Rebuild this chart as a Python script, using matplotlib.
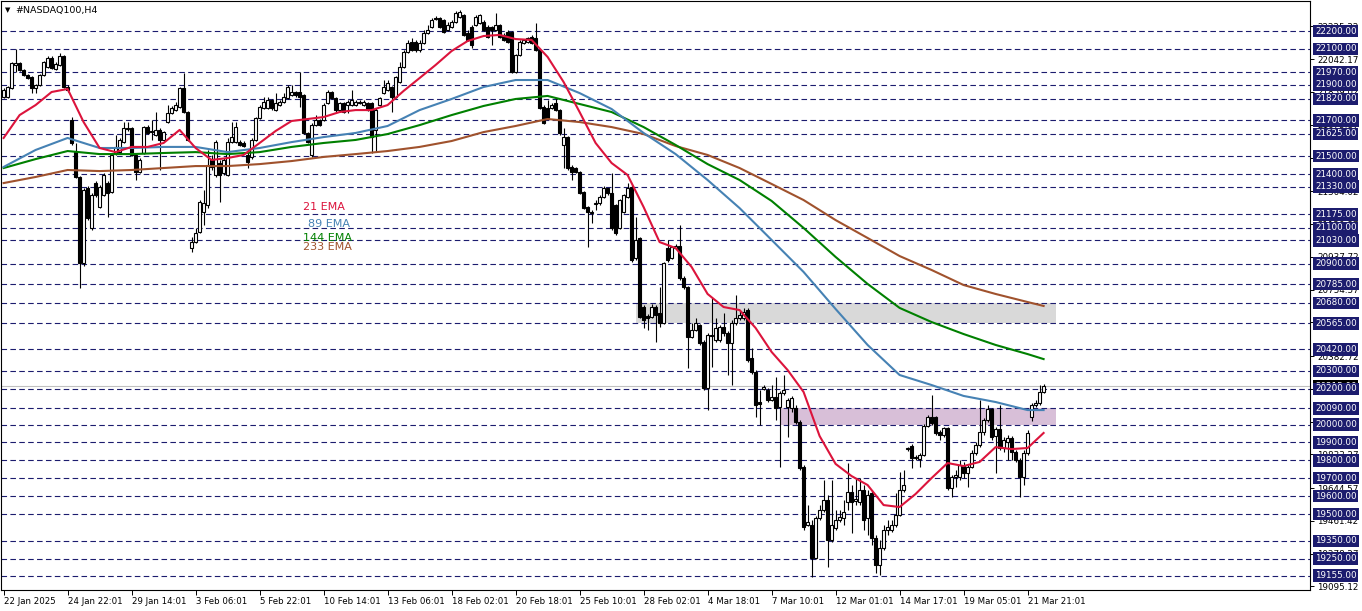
import matplotlib
matplotlib.use("Agg")
import matplotlib.pyplot as plt
from matplotlib.patches import Rectangle
from matplotlib.collections import LineCollection

# ---------------- data (H4 bars, #NASDAQ100) ----------------
bar_open = [21831, 21831, 21881, 22010, 22021, 21982, 21954, 21943, 21881, 21898, 21954, 21999, 22049, 21988, 22010, 22060, 21887,
            21702, 21523, 21384, 20903, 21322, 21099, 21350, 21216, 21283, 21350, 21300, 21518, 21523, 21579, 21658, 21658,
            21507, 21412, 21518, 21663, 21641, 21619, 21647, 21591, 21691, 21742, 21758, 21775, 21881, 21747, 20987, 21021,
            21077, 21188, 21227, 21479, 21395, 21462, 21406, 21395, 21579, 21579, 21579, 21574, 21507, 21496, 21591, 21714,
            21769, 21769, 21814, 21758, 21786, 21803, 21825, 21842, 21859, 21859, 21842, 21630, 21507, 21674, 21702, 21702,
            21798, 21859, 21825, 21758, 21798, 21786, 21786, 21786, 21803, 21786, 21798, 21798, 21647, 21786, 21853, 21870,
            21887, 21831, 21915, 21999, 22082, 22138, 22138, 22094, 22133, 22189, 22222, 22273, 22273, 22261, 22206, 22222,
            22250, 22278, 22289, 22189, 22222, 22234, 22245, 22250, 22222, 22222, 22206, 22234, 22178, 22194, 22194, 21971,
            22066, 22133, 22138, 22166, 22161, 22094, 21775, 21769, 21769, 21798, 21758, 21563, 21607, 21440, 21434, 21412,
            21300, 21216, 21188, 21233, 21238, 21272, 21322, 21294, 21227, 21099, 21188, 21272, 21328, 20931, 21043, 20657,
            20607, 20601, 20657, 20623, 20568, 20987, 20931, 20987, 20998, 20819, 20769, 20489, 20529, 20557, 20461, 20204,
            20495, 20473, 20473, 20545, 20512, 20456, 20568, 20596, 20596, 20640, 20372, 20294, 20126, 20199, 20193, 20137,
            20154, 20098, 20176, 20098, 20092, 20092, 20014, 19763, 19439, 19439, 19254, 19478, 19522, 19578, 19355, 19422,
            19466, 19478, 19567, 19623, 19573, 19567, 19634, 19478, 19617, 19366, 19215, 19310, 19411, 19411, 19439, 19494,
            19634, 19863, 19880, 19813, 19807, 19830, 19992, 20042, 20042, 19958, 19941, 19981, 19645, 19707, 19707, 19768,
            19729, 19763, 19841, 19886, 19958, 20025, 20087, 19936, 19975, 19869, 19902, 19925, 19847, 19802, 19707, 19841,
            20043, 20109, 20120, 20182]
bar_high = [21881, 21893, 22026, 22099, 22026, 21988, 21960, 21948, 21904, 21960, 22032, 22060, 22060, 22026, 22077, 22066, 21898,
            21719, 21574, 21389, 21322, 21333, 21294, 21361, 21339, 21406, 21361, 21518, 21619, 21602, 21691, 21691, 21663,
            21512, 21490, 21669, 21674, 21702, 21747, 21658, 21641, 21786, 21781, 21803, 21887, 21965, 21753, 21049, 21099,
            21255, 21311, 21535, 21507, 21591, 21479, 21490, 21602, 21691, 21691, 21591, 21585, 21535, 21602, 21719, 21786,
            21831, 21831, 21820, 21853, 21814, 21853, 21898, 21898, 21865, 21971, 21848, 21635, 21686, 21730, 21708, 21798,
            21870, 21865, 21831, 21803, 21803, 21814, 21870, 21814, 21814, 21814, 21803, 21803, 21769, 21831, 21926, 21926,
            21893, 21948, 22026, 22094, 22150, 22161, 22150, 22150, 22206, 22234, 22273, 22284, 22278, 22267, 22250, 22261,
            22312, 22317, 22295, 22206, 22234, 22289, 22295, 22261, 22234, 22228, 22301, 22239, 22189, 22206, 22200, 22071,
            22150, 22155, 22166, 22178, 22245, 22099, 21786, 21814, 21798, 21825, 21764, 21658, 21613, 21451, 21440, 21417,
            21306, 21222, 21199, 21255, 21283, 21333, 21322, 21406, 21233, 21261, 21289, 21350, 21339, 21160, 21049, 20668,
            20618, 20674, 20668, 20769, 20909, 21032, 20998, 21009, 21116, 20830, 20774, 20568, 20596, 20562, 20473, 20512,
            20707, 20596, 20557, 20623, 20523, 20584, 20724, 20640, 20651, 20651, 20428, 20305, 20193, 20221, 20204, 20221,
            20266, 20188, 20277, 20148, 20160, 20109, 20025, 19774, 19550, 19466, 19489, 19550, 19690, 19606, 19690, 19522,
            19522, 19578, 19785, 19662, 19701, 19701, 19662, 19634, 19634, 19383, 19355, 19439, 19466, 19466, 19617, 19735,
            19746, 19874, 19891, 19830, 19841, 20003, 20053, 20165, 20048, 19970, 19986, 19986, 19718, 19746, 19802, 19791,
            19774, 19858, 19902, 20137, 20036, 20109, 20092, 19986, 20109, 19930, 19941, 19936, 19858, 19813, 19858, 19970,
            20120, 20137, 20221, 20227]
bar_low = [21825, 21825, 21876, 21971, 21976, 21948, 21932, 21853, 21853, 21893, 21948, 21993, 21988, 21982, 22004, 21881, 21859,
           21563, 21378, 20763, 20886, 21143, 21088, 21272, 21210, 21277, 21160, 21294, 21507, 21518, 21574, 21641, 21501,
           21367, 21406, 21512, 21624, 21591, 21613, 21423, 21585, 21686, 21736, 21753, 21769, 21742, 21585, 20965, 21015,
           21071, 21115, 21210, 21423, 21384, 21244, 21395, 21389, 21574, 21574, 21557, 21552, 21434, 21484, 21585, 21708,
           21764, 21764, 21758, 21753, 21781, 21798, 21820, 21837, 21831, 21775, 21624, 21574, 21496, 21669, 21669, 21697,
           21792, 21820, 21742, 21753, 21742, 21742, 21781, 21781, 21792, 21781, 21753, 21518, 21523, 21781, 21848, 21865,
           21747, 21825, 21909, 21993, 22077, 22088, 22082, 22082, 22127, 22183, 22217, 22261, 22217, 22189, 22200, 22217,
           22245, 22273, 22172, 22144, 22105, 22228, 22239, 22200, 22161, 22122, 22200, 22161, 22144, 22133, 21965, 21965,
           22060, 22127, 22133, 22127, 22088, 21764, 21680, 21708, 21764, 21753, 21619, 21434, 21423, 21367, 21406, 21289,
           21205, 20993, 21127, 21199, 21227, 21266, 21283, 21088, 21060, 21093, 21182, 21266, 20909, 20920, 20596, 20540,
           20529, 20596, 20461, 20545, 20562, 20909, 20925, 20982, 20808, 20758, 20316, 20484, 20523, 20445, 20193, 20081,
           20322, 20461, 20461, 20495, 20277, 20221, 20557, 20584, 20584, 20350, 20283, 20042, 19998, 20193, 20126, 20132,
           20025, 19763, 20165, 19930, 20070, 20003, 19746, 19411, 19433, 19148, 19248, 19466, 19511, 19204, 19344, 19411,
           19455, 19439, 19522, 19394, 19550, 19550, 19411, 19382, 19327, 19170, 19159, 19299, 19382, 19399, 19428, 19489,
           19623, 19852, 19757, 19802, 19763, 19824, 19986, 19998, 19941, 19914, 19930, 19634, 19595, 19651, 19690, 19701,
           19651, 19757, 19830, 19874, 19941, 20014, 19914, 19729, 19858, 19847, 19802, 19802, 19791, 19595, 19662, 19830,
           20020, 20098, 20109, 20176]
bar_close = [21870, 21887, 22021, 22021, 21982, 21954, 21937, 21881, 21898, 21954, 22026, 22049, 21993, 22015, 22060, 21887, 21870,
             21574, 21384, 20903, 21311, 21155, 21283, 21283, 21328, 21395, 21294, 21507, 21552, 21591, 21658, 21652, 21507,
             21412, 21479, 21663, 21630, 21635, 21647, 21591, 21635, 21742, 21769, 21786, 21881, 21747, 21591, 21021, 21071,
             21244, 21238, 21451, 21440, 21579, 21395, 21479, 21579, 21607, 21663, 21563, 21557, 21468, 21591, 21714, 21775,
             21803, 21814, 21769, 21798, 21803, 21831, 21887, 21859, 21842, 21831, 21630, 21579, 21674, 21702, 21674, 21786,
             21859, 21825, 21758, 21798, 21747, 21803, 21814, 21803, 21798, 21803, 21758, 21607, 21758, 21825, 21887, 21909,
             21831, 21943, 21999, 22082, 22133, 22094, 22094, 22133, 22189, 22206, 22261, 22267, 22222, 22194, 22234, 22250,
             22301, 22306, 22178, 22150, 22122, 22278, 22289, 22206, 22166, 22206, 22234, 22166, 22150, 22138, 21971, 22066,
             22138, 22150, 22161, 22133, 22094, 21769, 21686, 21714, 21786, 21758, 21630, 21607, 21434, 21412, 21412, 21294,
             21210, 21188, 21182, 21238, 21272, 21322, 21294, 21099, 21071, 21255, 21283, 21322, 20920, 21032, 20601, 20584,
             20596, 20657, 20612, 20568, 20903, 20920, 20993, 20998, 20819, 20769, 20489, 20529, 20568, 20456, 20204, 20501,
             20501, 20540, 20545, 20512, 20456, 20568, 20596, 20612, 20629, 20361, 20294, 20109, 20115, 20210, 20137, 20154,
             20092, 20176, 20193, 20137, 20148, 20014, 19757, 19427, 19455, 19254, 19478, 19522, 19578, 19355, 19439, 19466,
             19483, 19511, 19623, 19567, 19584, 19634, 19466, 19606, 19366, 19215, 19310, 19411, 19428, 19439, 19494, 19634,
             19662, 19869, 19813, 19819, 19830, 19992, 20042, 20008, 19953, 19941, 19981, 19645, 19707, 19718, 19774, 19729,
             19763, 19841, 19886, 19958, 20025, 20087, 19930, 19975, 19869, 19914, 19925, 19847, 19802, 19707, 19841, 19953,
             20109, 20120, 20182, 20215]

ema21_bars = list(range(0, 261, 4))
ema21 = [21602, 21730, 21786, 21859, 21876, 21691, 21546, 21523, 21552, 21552, 21574, 21647, 21546, 21479, 21490, 21507,
         21574, 21641, 21697, 21708, 21719, 21747, 21758, 21758, 21786, 21865, 21937, 22010, 22088, 22144, 22172, 22178,
         22155, 22150, 22055, 21915, 21747, 21574, 21462, 21395, 21216, 21020, 20987, 20881, 20730, 20657, 20640, 20540,
         20406, 20305, 20182, 19936, 19780, 19712, 19662, 19550, 19539, 19612, 19701, 19785, 19768, 19791, 19874, 19863,
         19869, 19953]
slow_bars = list(range(0, 257, 8)) + [260]
ema89 = [21440, 21535, 21602, 21546, 21546, 21552, 21552, 21523, 21546, 21579, 21607, 21630, 21669, 21758, 21820, 21887,
         21926, 21926, 21853, 21764, 21630, 21512, 21367, 21210, 21032, 20853, 20646, 20445, 20277, 20221, 20160, 20126,
         20081, 20081]
ema144 = [21434, 21484, 21529, 21512, 21512, 21518, 21523, 21512, 21523, 21552, 21574, 21591, 21624, 21674, 21730, 21781,
          21820, 21837, 21792, 21747, 21663, 21563, 21456, 21367, 21250, 21099, 20937, 20786, 20652, 20573, 20506, 20445,
          20394, 20366]
ema233 = [21350, 21384, 21423, 21417, 21423, 21434, 21445, 21445, 21456, 21473, 21496, 21512, 21529, 21552, 21585, 21635,
          21669, 21708, 21691, 21663, 21624, 21557, 21507, 21434, 21345, 21255, 21143, 21043, 20942, 20864, 20780, 20730,
          20685, 20663]

# horizontal levels (dashed lines with labels)
levels = [22200, 22100, 21970, 21900, 21820, 21700, 21625, 21500, 21400, 21330, 21175, 21100, 21030, 20900, 20785, 20680,
          20565, 20420, 20300, 20200, 20090, 20000, 19900, 19800, 19700, 19600, 19500, 19350, 19250, 19155]
# price-scale labels
scale_labels = [22225.32, 22042.17, 21859.02, 21675.87, 21492.72, 21304.02, 21120.87, 20937.72, 20754.57, 20571.42,
                20382.72, 20199.57, 20016.42, 19833.27, 19644.57, 19461.42, 19278.27, 19095.12]
# zones
grey_zone = (20565, 20680)
grey_zone_bars = (158, 263)
pink_zone = (20000, 20090)
pink_zone_bars = (194, 263)

x_label_bars = list(range(0, 257, 16))
x_labels = ["22 Jan 2025", "24 Jan 22:01", "29 Jan 14:01", "3 Feb 06:01", "5 Feb 22:01", "10 Feb 14:01",
            "13 Feb 06:01", "18 Feb 02:01", "20 Feb 18:01", "25 Feb 10:01", "28 Feb 02:01", "4 Mar 18:01",
            "7 Mar 10:01", "12 Mar 01:01", "14 Mar 17:01", "19 Mar 05:01", "21 Mar 21:01"]

# ---------------- figure ----------------
W, H = 1362, 611
fig = plt.figure(figsize=(W / 100, H / 100), dpi=100)
fig.patch.set_facecolor("white")


def fx(px):
    return px / W


def fy(py):
    return 1 - py / H


ax_left, ax_right, ax_top, ax_bottom = 1, 1310, 1, 590
ax = fig.add_axes([fx(ax_left), fy(ax_bottom), (ax_right - ax_left) / W, (ax_bottom - ax_top) / H])
ax.set_facecolor("white")
ax.set_xlim(-0.65, 326.6)
ax.set_ylim(19075.2, 22367.7)

NAVY = "#1c1c6e"

# zones
ax.add_patch(Rectangle((grey_zone_bars[0], grey_zone[0]), grey_zone_bars[1] - grey_zone_bars[0],
                       grey_zone[1] - grey_zone[0], facecolor="#d9d9d9", edgecolor="none", zorder=0.5))
ax.add_patch(Rectangle((pink_zone_bars[0], pink_zone[0]), pink_zone_bars[1] - pink_zone_bars[0],
                       pink_zone[1] - pink_zone[0], facecolor="#d8bfd8", edgecolor="none", zorder=0.5))

# dashed level lines
for lv in levels:
    ax.axhline(lv, color=NAVY, lw=0.8, ls=(0, (5, 3)), zorder=1)

# bid line
ax.axhline(bar_close[-1], color="#c0c0c0", lw=0.8, zorder=1)

# candles
n = len(bar_close)
wicks = [[(i, bar_low[i]), (i, bar_high[i])] for i in range(n)]
ax.add_collection(LineCollection(wicks, colors="black", linewidths=0.8, zorder=3))
for i in range(n):
    o, c = bar_open[i], bar_close[i]
    lo, hi = min(o, c), max(o, c)
    up = c >= o
    ax.add_patch(Rectangle((i - 0.32, lo), 0.64, max(hi - lo, 0.5),
                           facecolor="white" if up else "black", edgecolor="black",
                           linewidth=0.8, zorder=4))

# EMAs
ax.plot(slow_bars, ema233, color="#a0522d", lw=1.5, zorder=5)
ax.plot(slow_bars, ema144, color="#008000", lw=1.5, zorder=5)
ax.plot(slow_bars, ema89, color="#4682b4", lw=1.5, zorder=5)
ax.plot(ema21_bars, ema21, color="#dc143c", lw=1.5, zorder=6)

# frame
for s in ax.spines.values():
    s.set_color("black")
    s.set_linewidth(0.8)

# x axis
ax.set_xticks(x_label_bars)
ax.set_xticklabels(x_labels, ha="left", fontsize=6.2)
ax.tick_params(axis="x", direction="out", length=3.5, width=0.7, pad=1.5, colors="black")

# y axis (right)
ax.yaxis.tick_right()
ax.set_yticks(scale_labels)
ax.set_yticklabels([f"{v:.2f}" for v in scale_labels], fontsize=6.3)
ax.tick_params(axis="y", direction="out", length=3, width=0.7, pad=2, colors="black")

ytr = ax.get_yaxis_transform()
xoff = 1.0 + 5 / (ax_right - ax_left)
ax.text(xoff, bar_close[-1], f"{bar_close[-1]:.2f}", transform=ytr, ha="left", va="center", fontsize=6.3,
        color="white", bbox=dict(boxstyle="square,pad=0.2", fc="black", ec="none"), clip_on=False, zorder=9)
for lv in levels:
    ax.text(xoff, lv, f"{lv:.2f}", transform=ytr, ha="left", va="center", fontsize=6.3, color="white",
            bbox=dict(boxstyle="square,pad=0.2", fc=NAVY, ec="none"), clip_on=False, zorder=10)

# title
fig.text(fx(5), fy(10), "\u25BC", fontsize=5, ha="left", va="center", color="black")
fig.text(fx(15), fy(10), "#NASDAQ100,H4", fontsize=6.8, ha="left", va="center", color="black")

# EMA labels
fig.text(fx(303), fy(207), "21 EMA", fontsize=8, color="#dc143c", ha="left", va="center")
fig.text(fx(308), fy(224), "89 EMA", fontsize=8, color="#4682b4", ha="left", va="center")
fig.text(fx(303), fy(238), "144 EMA", fontsize=8, color="#008000", ha="left", va="center")
fig.text(fx(303), fy(247), "233 EMA", fontsize=8, color="#a0522d", ha="left", va="center")

fig.savefig("out.png", dpi=100, facecolor="white")
